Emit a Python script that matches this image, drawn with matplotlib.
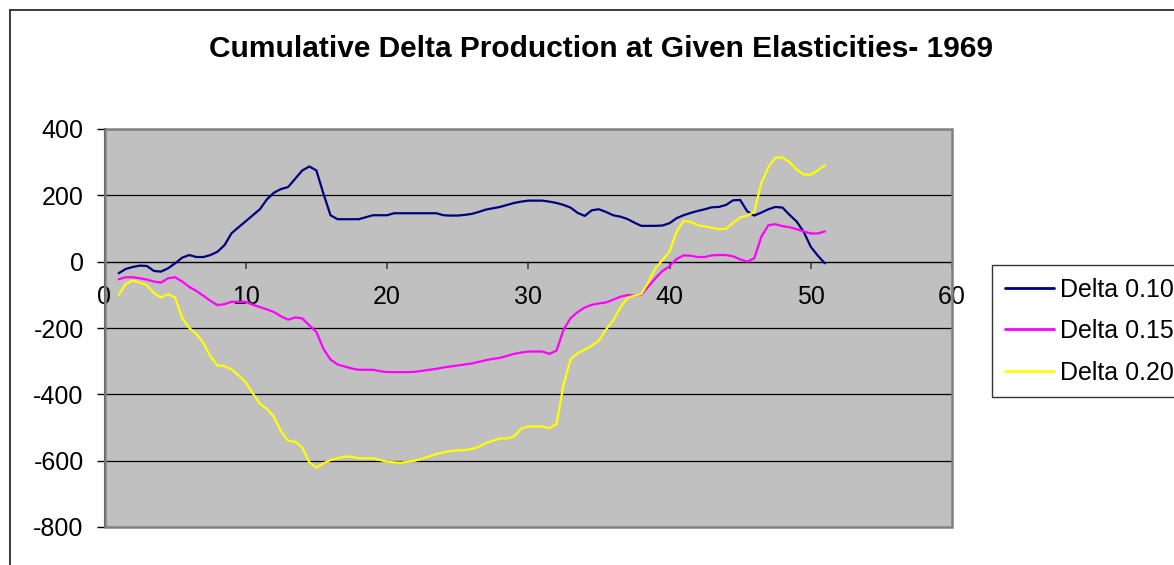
import matplotlib
matplotlib.use("Agg")
import matplotlib.pyplot as plt
from matplotlib.patches import Rectangle

plt.rcParams['font.family'] = ['Liberation Sans', 'DejaVu Sans']

# Week index (half-week resolution)
weeks = [1.0 + 0.5 * i for i in range(101)]

delta_010 = [
    -35, -22, -16, -12, -13, -28, -30, -20, -5, 12,
    20, 14, 14, 20, 30, 50, 86, 104, 122, 140,
    158, 188, 208, 219, 225, 250, 275, 287, 275, 205,
    140, 128, 128, 128, 128, 134, 140, 140, 140, 146,
    146, 146, 146, 146, 146, 146, 140, 139, 139, 141,
    144, 150, 157, 161, 165, 171, 177, 181, 184, 184,
    184, 181, 177, 171, 163, 147, 138, 155, 158, 150,
    140, 136, 129, 118, 108, 108, 108, 109, 116, 131,
    140, 147, 153, 158, 164, 165, 171, 185, 186, 152,
    139, 148, 158, 165, 163, 141, 121, 90, 45, 18,
    -5,
]

delta_015 = [
    -53, -47, -47, -50, -54, -60, -63, -50, -47, -60,
    -76, -88, -103, -118, -131, -128, -121, -121, -121, -130,
    -137, -144, -152, -165, -175, -168, -171, -192, -212, -263,
    -295, -310, -316, -322, -326, -326, -326, -330, -333, -333,
    -333, -333, -332, -329, -326, -323, -319, -316, -313, -310,
    -307, -302, -297, -293, -290, -284, -278, -274, -271, -271,
    -271, -278, -268, -205, -170, -152, -138, -130, -126, -123,
    -115, -106, -101, -101, -100, -75, -50, -28, -14, 8,
    19, 18, 14, 14, 19, 20, 20, 16, 7, 0,
    10, 75, 110, 113, 107, 104, 98, 91, 85, 85,
    91,
]

delta_020 = [
    -100, -67, -57, -63, -71, -95, -108, -98, -108, -170,
    -200, -218, -245, -285, -313, -315, -325, -343, -364, -397,
    -428, -444, -468, -512, -540, -543, -560, -605, -621, -608,
    -598, -593, -588, -588, -593, -593, -593, -598, -603, -605,
    -606, -603, -600, -594, -587, -580, -575, -571, -569, -568,
    -565, -558, -547, -540, -533, -533, -527, -503, -497, -497,
    -497, -502, -490, -370, -294, -276, -265, -253, -238, -205,
    -178, -140, -110, -102, -98, -62, -20, 5, 30, 90,
    123, 120, 110, 106, 102, 98, 99, 117, 133, 139,
    150, 237, 285, 314, 314, 300, 278, 263, 262, 275,
    291,
]

series_labels = ["Delta 0.10", "Delta 0.15", "Delta 0.20"]
series_colors = ["#000080", "#FF00FF", "#FFFF00"]

x_ticks = [0, 10, 20, 30, 40, 50, 60]
y_ticks = [400, 200, 0, -200, -400, -600, -800]

W, H = 1174, 565
fig = plt.figure(figsize=(W / 100, H / 100), dpi=100)
fig.patch.set_facecolor("white")

# chart-area border (runs off the right and bottom edges)
fig.patches.append(Rectangle((10 / W, -0.2), 2.0, 1 - 10 / H + 0.2,
                             transform=fig.transFigure, fill=False,
                             edgecolor="#1a1a1a", linewidth=1.2))

left, right, top, bottom = 104.5, 952, 129, 527
ax = fig.add_axes([left / W, 1 - bottom / H, (right - left) / W, (bottom - top) / H])
ax.set_facecolor("#C0C0C0")

for ys, lab, col in zip([delta_010, delta_015, delta_020], series_labels, series_colors):
    ax.plot(weeks, ys, color=col, linewidth=1.6, label=lab, zorder=3,
            solid_joinstyle="round", solid_capstyle="round")

ax.set_xlim(0, 60)
ax.set_ylim(-800, 400)
ax.set_xticks(x_ticks)
ax.set_yticks(y_ticks)
ax.set_xticklabels([str(v) for v in x_ticks])
ax.set_yticklabels([str(v) for v in y_ticks])

# horizontal gridlines
for g in y_ticks[1:-1]:
    if g != 0:
        ax.axhline(g, color="black", linewidth=0.9, zorder=1)

ax.spines["top"].set_visible(False)
ax.spines["right"].set_visible(False)
ax.spines["bottom"].set_position(("data", 0))
ax.spines["bottom"].set_color("black")
ax.spines["bottom"].set_linewidth(1.0)
ax.spines["bottom"].set_zorder(2)
ax.spines["left"].set_color("#222222")
ax.spines["left"].set_linewidth(1.5)

# plot-area frame
ax.add_patch(Rectangle((0, 0), 1, 1, transform=ax.transAxes, fill=False,
                       edgecolor="#808080", linewidth=1.8, clip_on=False, zorder=4))

ax.tick_params(axis="y", direction="out", length=6, width=1, color="black",
               labelsize=18, pad=9)
ax.tick_params(axis="x", direction="out", length=5, width=1.4, color="#555555",
               labelsize=18, pad=12)

fig.text(0.512, 1 - 49 / H, "Cumulative Delta Production at Given Elasticities- 1969",
         ha="center", va="center", fontsize=21.5, fontweight="bold")

leg = fig.legend(loc="upper left", bbox_to_anchor=(992 / W, 1 - 265 / H),
                 bbox_transform=fig.transFigure, frameon=True, fancybox=False,
                 fontsize=18, handlelength=1.96, handletextpad=0.28,
                 labelspacing=0.7, borderpad=0.5, borderaxespad=0)
leg.get_frame().set_edgecolor("black")
leg.get_frame().set_linewidth(1.0)
for h in leg.get_lines():
    h.set_linewidth(2.0)

fig.savefig("out.png", dpi=100)
